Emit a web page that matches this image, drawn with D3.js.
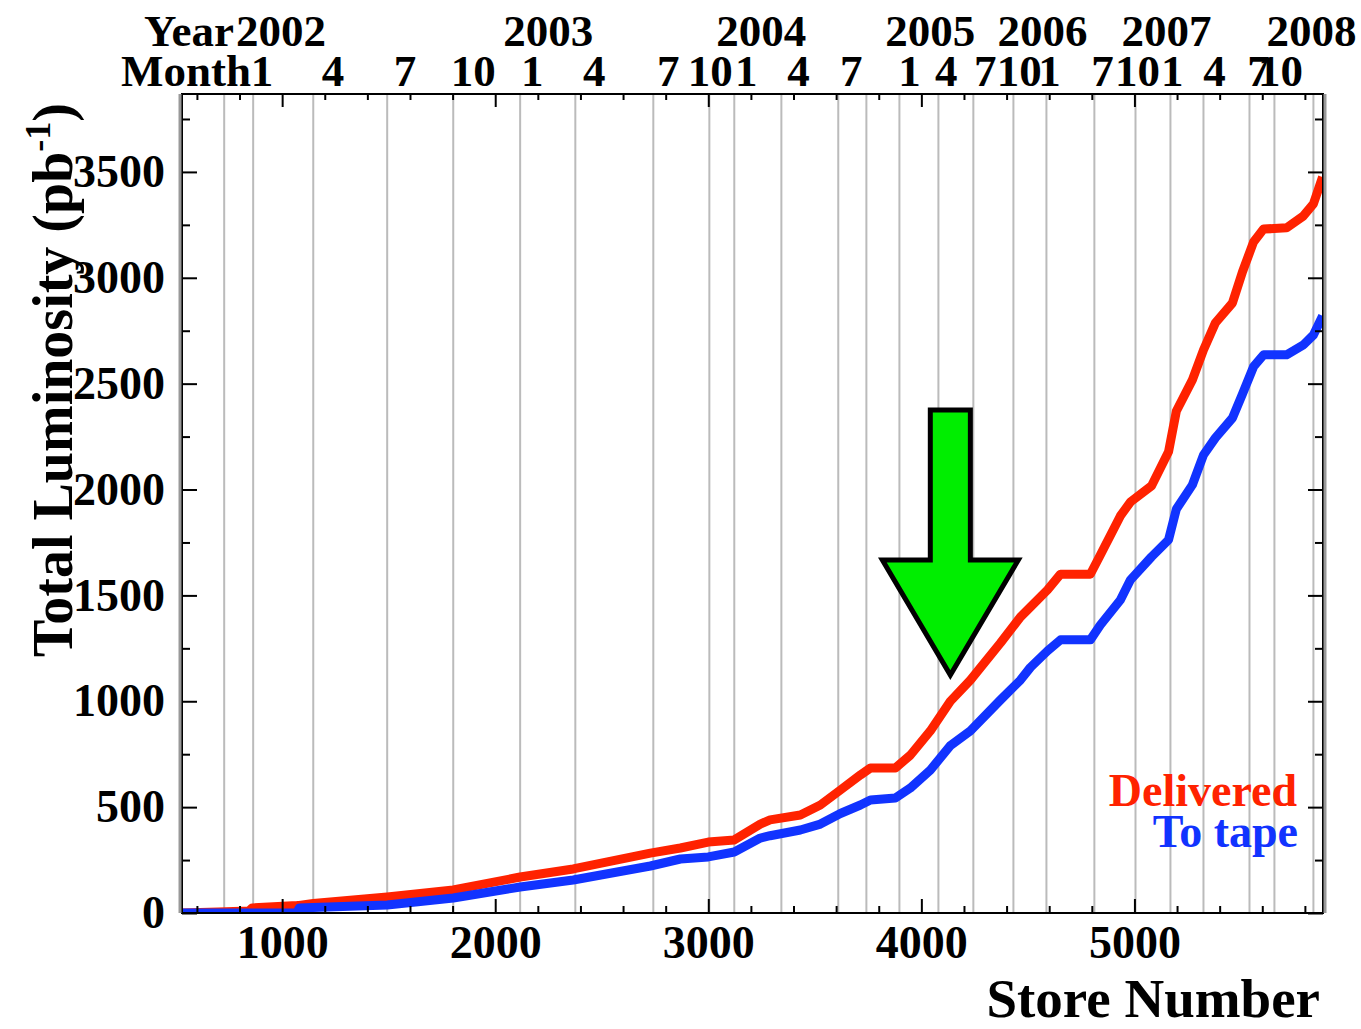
<!DOCTYPE html>
<html>
<head>
<meta charset="utf-8">
<script src="https://cdn.jsdelivr.net/npm/d3@7"></script>
<style>
  body { margin: 0; background: #fff; }
  text { font-family: "Liberation Serif", "Times New Roman", serif; font-weight: bold; }
</style>
</head>
<body>
<svg width="1361" height="1029"></svg>
<script>
// store numbers sampled along the curves
var stores = [530, 700, 845, 860, 1070, 1080, 1146, 1493, 1803, 2117, 2366, 2728, 2869, 3000, 3122, 3244, 3290,
    3432, 3526, 3620, 3714, 3761, 3878, 3948, 4042, 4136, 4230, 4371, 4465, 4512, 4592, 4653, 4793, 4840,
    4934, 4981, 5080, 5160, 5197, 5272, 5324, 5380, 5460, 5507, 5559, 5606, 5714, 5793, 5840, 5883];

var delivered = [0, 5, 10, 24, 35, 36, 45, 76, 109, 170, 208, 283, 307, 335, 345, 420, 440,
    463, 510, 581, 652, 685, 685, 745, 860, 1000, 1100, 1275, 1398, 1445, 1526, 1600, 1600, 1691,
    1875, 1941, 2017, 2178, 2371, 2518, 2659, 2787, 2881, 3028, 3169, 3230, 3236, 3292, 3349, 3476];

var toTape = [0, 0, 0, 0, 0, 24, 26, 38, 71, 123, 156, 222, 255, 265, 288, 354, 365,
    392, 420, 470, 510, 534, 543, 590, 675, 790, 860, 1006, 1100, 1160, 1238, 1290, 1290, 1360,
    1478, 1573, 1682, 1762, 1908, 2022, 2163, 2244, 2338, 2451, 2580, 2636, 2636, 2683, 2730, 2820];

// month boundaries (store numbers) shown as grey lines
var gridStores = [728, 864, 1146, 1493, 1803, 2117, 2376, 2742, 3005, 3122, 3343, 3610, 3742, 3897,
    4080, 4244, 4432, 4587, 4812, 5005, 5169, 5324, 5540, 5657, 5840];

var monthNames = ['1', '4', '7', '10', '1', '4', '7', '10', '1', '4', '7', '1', '4', '7', '10',
    '1', '7', '10', '1', '4', '7', '10'];
var monthStores = [906, 1239, 1577, 1897, 2174, 2465, 2812, 3009, 3178, 3423, 3671, 3944, 4117, 4300, 4460,
    4601, 4850, 5014, 5178, 5376, 5582, 5685];

var yearNames = ['2002', '2003', '2004', '2005', '2006', '2007', '2008'];
var yearStores = [995, 2249, 3249, 4042, 4568, 5150, 5831];

// arrow annotation in data units
var arrowStore = 4136, arrowTip = 1124, arrowNeck = 1667, arrowTop = 2376, shaftHalf = 94, headHalf = 319;

var svg = d3.select('svg');

var x = d3.scaleLinear().domain([530, 5885]).range([182, 1323]);
var y = d3.scaleLinear().domain([0, 3868]).range([913, 94]);

svg.append('defs').append('clipPath').attr('id', 'plot')
    .append('rect')
    .attr('x', x.range()[0]).attr('y', y.range()[1])
    .attr('width', x.range()[1] - x.range()[0])
    .attr('height', y.range()[0] - y.range()[1]);

// grid
svg.append('g')
    .selectAll('line')
    .data(gridStores)
    .enter().append('line')
    .attr('x1', d => x(d)).attr('x2', d => x(d))
    .attr('y1', y.range()[0]).attr('y2', y.range()[1])
    .attr('stroke', '#bbbbbb')
    .attr('stroke-width', 2);

// curves
var line = function(vals) {
    return d3.line()
        .x((d, i) => x(stores[i]))
        .y(d => y(d))(vals);
};

var curves = svg.append('g').attr('clip-path', 'url(#plot)');
curves.append('path')
    .attr('d', line(delivered))
    .attr('fill', 'none')
    .attr('stroke', '#ff2200')
    .attr('stroke-width', 9)
    .attr('stroke-linejoin', 'round');
curves.append('path')
    .attr('d', line(toTape))
    .attr('fill', 'none')
    .attr('stroke', '#1133ff')
    .attr('stroke-width', 9)
    .attr('stroke-linejoin', 'round');

// arrow
var arrowPts = [
    [arrowStore - shaftHalf, arrowTop], [arrowStore + shaftHalf, arrowTop],
    [arrowStore + shaftHalf, arrowNeck], [arrowStore + headHalf, arrowNeck],
    [arrowStore, arrowTip],
    [arrowStore - headHalf, arrowNeck], [arrowStore - shaftHalf, arrowNeck]
];
svg.append('path')
    .attr('d', 'M' + arrowPts.map(p => x(p[0]) + ',' + y(p[1])).join('L') + 'Z')
    .attr('fill', '#00ee00')
    .attr('stroke', '#000')
    .attr('stroke-width', 5)
    .attr('stroke-linejoin', 'miter');

// legend
svg.append('text').attr('x', 1297).attr('y', 806)
    .attr('text-anchor', 'end').attr('font-size', 46).attr('fill', '#ff2200')
    .text('Delivered');
svg.append('text').attr('x', 1298).attr('y', 847)
    .attr('text-anchor', 'end').attr('font-size', 46).attr('fill', '#1133ff')
    .text('To tape');

// axes
var minorX = d3.range(600, 5885, 200).filter(d => d % 1000 !== 0);
var majorX = [1000, 2000, 3000, 4000, 5000];
var minorY = d3.range(250, 3868, 500);
var majorY = d3.range(0, 3868, 500);

function clean(g) {
    g.select('.domain').remove();
    g.selectAll('.tick line').attr('stroke', '#000').attr('stroke-width', 2);
}

svg.append('g').attr('transform', 'translate(0,913)')
    .call(d3.axisBottom(x).tickValues(minorX).tickSize(-7).tickFormat(''))
    .call(clean);
svg.append('g').attr('transform', 'translate(0,913)')
    .call(d3.axisBottom(x).tickValues(majorX).tickSize(-14).tickPadding(12).tickFormat(d3.format('d')))
    .call(clean)
    .call(g => g.selectAll('text').attr('font-size', 46).attr('fill', '#000')
        .attr('font-family', '"Liberation Serif", serif'));

svg.append('g').attr('transform', 'translate(0,94)')
    .call(d3.axisTop(x).tickValues(minorX).tickSize(-6).tickFormat(''))
    .call(clean);
svg.append('g').attr('transform', 'translate(0,94)')
    .call(d3.axisTop(x).tickValues(majorX).tickSize(-13).tickFormat(''))
    .call(clean);

svg.append('g').attr('transform', 'translate(182,0)')
    .call(d3.axisLeft(y).tickValues(minorY).tickSize(-8).tickFormat(''))
    .call(clean);
svg.append('g').attr('transform', 'translate(182,0)')
    .call(d3.axisLeft(y).tickValues(majorY).tickSize(-15).tickPadding(17).tickFormat(d3.format('d')))
    .call(clean)
    .call(g => g.selectAll('text').attr('font-size', 46).attr('fill', '#000')
        .attr('font-family', '"Liberation Serif", serif'));

svg.append('g').attr('transform', 'translate(1323,0)')
    .call(d3.axisRight(y).tickValues(minorY).tickSize(-8).tickFormat(''))
    .call(clean);
svg.append('g').attr('transform', 'translate(1323,0)')
    .call(d3.axisRight(y).tickValues(majorY).tickSize(-15).tickFormat(''))
    .call(clean);

// frame
svg.append('rect')
    .attr('x', 182).attr('y', 94).attr('width', 1323 - 182).attr('height', 913 - 94)
    .attr('fill', 'none').attr('stroke', '#000').attr('stroke-width', 2);
svg.append('line').attr('x1', 180).attr('x2', 180).attr('y1', 94).attr('y2', 913)
    .attr('stroke', '#999').attr('stroke-width', 3);
svg.append('line').attr('x1', 1325).attr('x2', 1325).attr('y1', 94).attr('y2', 913)
    .attr('stroke', '#999').attr('stroke-width', 3);

// top labels
svg.append('text').attr('x', 234).attr('y', 46).attr('text-anchor', 'end').attr('font-size', 45).text('Year');
svg.append('text').attr('x', 251).attr('y', 86).attr('text-anchor', 'end').attr('font-size', 45).text('Month');

svg.append('g').selectAll('text')
    .data(yearNames)
    .enter().append('text')
    .attr('x', (d, i) => x(yearStores[i]))
    .attr('y', 46)
    .attr('text-anchor', 'middle')
    .attr('font-size', 45)
    .text(d => d);

svg.append('g').selectAll('text')
    .data(monthNames)
    .enter().append('text')
    .attr('x', (d, i) => x(monthStores[i]))
    .attr('y', 86)
    .attr('text-anchor', 'middle')
    .attr('font-size', 45)
    .text(d => d);

// axis titles
svg.append('text').attr('x', 1320).attr('y', 1017).attr('text-anchor', 'end')
    .attr('font-size', 55).text('Store Number');

var yt = svg.append('text')
    .attr('transform', 'translate(72,380) rotate(-90)')
    .attr('text-anchor', 'middle')
    .attr('font-size', 56);
yt.append('tspan').text('Total Luminosity (pb');
yt.append('tspan').attr('font-size', 36).attr('dy', -22).text('-1');
yt.append('tspan').attr('dy', 22).text(')');
</script>
</body>
</html>
